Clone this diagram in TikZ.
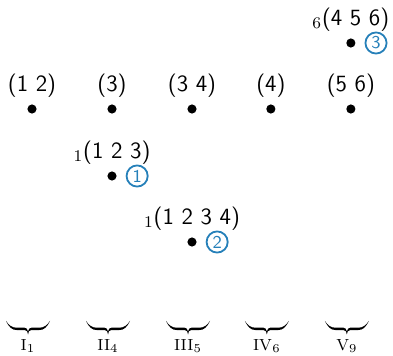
\documentclass[tikz,border=0pt,11pt]{standalone}
\usepackage{fix-cm}
\usetikzlibrary{positioning}

\definecolor{numblue}{RGB}{38,128,185}

\tikzset{
    dot/.style={circle, fill=black, inner sep=0pt, minimum size=0.16cm},
    lbl/.style={font=\fontsize{11.6}{14}\selectfont\sffamily, inner sep=0pt},
    num/.style={circle, draw=numblue, text=numblue, line width=0.9pt, inner sep=0pt,
                minimum size=0.37cm, font=\sffamily\footnotesize},
    grp/.style={inner sep=0pt, anchor=base},
    halfbrace/.pic={
        \fill (-0.385, 0.115) .. controls (-0.33, 0.0) and (-0.28, -0.045) .. (-0.2, -0.045)
            -- (-0.06, -0.045) .. controls (-0.02, -0.045) and (0, -0.08) .. (0, -0.12)
            -- (0, -0.07) .. controls (-0.01, -0.025) and (-0.03, -0.005) .. (-0.06, -0.005)
            -- (-0.2, -0.005) .. controls (-0.28, -0.005) and (-0.34, 0.04) .. cycle;
    },
    grpbrace/.pic={
        \pic {halfbrace};
        \pic[xscale=-1] {halfbrace};
    },
}

\begin{document}
\begin{tikzpicture}
    \useasboundingbox (0, 0) rectangle (6.8775, -6.2125);

    % bottom row of cycles
    \node[dot] (c12) at (0.56, -1.9075) {};
    \node[dot] (c3) at (1.96, -1.9075) {};
    \node[dot] (c34) at (3.36, -1.9075) {};
    \node[dot] (c4) at (4.74, -1.9075) {};
    \node[dot] (c56) at (6.14, -1.9075) {};

    \node[lbl, above=0.31cm of c12.center, anchor=base] (l12) {(1 2)};
    \node[lbl, above=0.31cm of c3.center, anchor=base] (l3) {(3)};
    \node[lbl, above=0.31cm of c34.center, anchor=base] (l34) {(3 4)};
    \node[lbl, above=0.31cm of c4.center, anchor=base] (l4) {(4)};
    \node[lbl, above=0.31cm of c56.center, anchor=base] (l56) {(5 6)};

    % merged cycles
    \node[dot] (c456) at (6.14, -0.7525) {};
    \node[dot] (c123) at (1.96, -3.08) {};
    \node[dot] (c1234) at (3.36, -4.235) {};

    \node[lbl, above=0.31cm of c456.center, anchor=base] (l456) {$_6$(4 5 6)};
    \node[lbl, above=0.31cm of c123.center, anchor=base] (l123) {$_1$(1 2 3)};
    \node[lbl, above=0.31cm of c1234.center, anchor=base] (l1234) {$_1$(1 2 3 4)};

    \node[num, right=0.44cm of c123.center, anchor=center] (n1) {1};
    \node[num, right=0.44cm of c1234.center, anchor=center] (n2) {2};
    \node[num, right=0.44cm of c456.center, anchor=center] (n3) {3};

    % groups
    \pic (b1) at (0.49, -5.73) {grpbrace};
    \pic (b2) at (1.89, -5.73) {grpbrace};
    \pic (b3) at (3.29, -5.73) {grpbrace};
    \pic (b4) at (4.67, -5.73) {grpbrace};
    \pic (b5) at (6.07, -5.73) {grpbrace};

    \node[grp] (g1) at (0.49, -6.13) {$\scriptstyle\mathrm{I}_1$};
    \node[grp] (g2) at (1.89, -6.13) {$\scriptstyle\mathrm{II}_4$};
    \node[grp] (g3) at (3.29, -6.13) {$\scriptstyle\mathrm{III}_5$};
    \node[grp] (g4) at (4.67, -6.13) {$\scriptstyle\mathrm{IV}_6$};
    \node[grp] (g5) at (6.07, -6.13) {$\scriptstyle\mathrm{V}_9$};
\end{tikzpicture}
\end{document}
